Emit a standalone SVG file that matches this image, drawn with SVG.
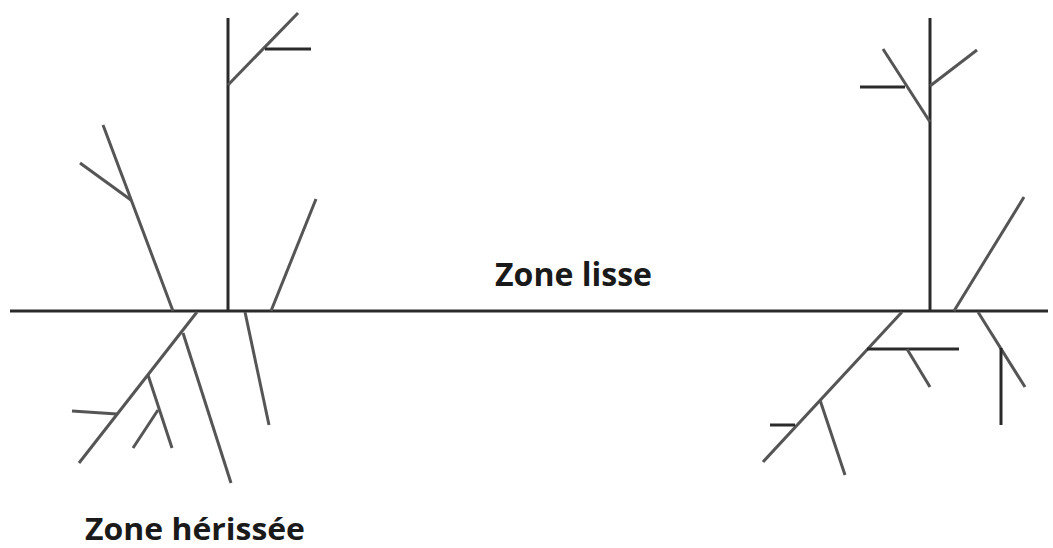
<svg xmlns="http://www.w3.org/2000/svg" width="1053" height="548" viewBox="0 0 1053 548">
<style>
.s{stroke:#555;stroke-width:3;stroke-linecap:butt;fill:none}
.d{stroke:#2a2a2a;stroke-width:3;fill:none}
.t{font-family:"Open Sans","Liberation Sans",sans-serif;font-weight:bold;fill:#1a1a1a}
</style>
<rect width="1053" height="548" fill="#fff"/>
<g id="ground">
<line class="d" x1="10" y1="311" x2="1048" y2="311" stroke-width="3.5"/>
</g>
<g id="left-plant">
<line class="d" x1="228" y1="18" x2="228" y2="311"/>
<line class="s" x1="228" y1="85" x2="298" y2="13"/>
<line class="d" x1="265" y1="49" x2="311" y2="49"/>
<line class="s" x1="173" y1="311" x2="103" y2="125"/>
<line class="s" x1="131" y1="200" x2="80" y2="163"/>
<line class="s" x1="271" y1="311" x2="316" y2="199"/>
<line class="s" x1="197" y1="312" x2="79" y2="463"/>
<line class="s" x1="183" y1="333" x2="231" y2="483"/>
<line class="s" x1="148" y1="375" x2="172" y2="448"/>
<line class="s" x1="158" y1="410" x2="133" y2="448"/>
<line class="s" x1="117" y1="414" x2="72" y2="411"/>
<line class="s" x1="245" y1="312" x2="269" y2="425"/>
</g>
<g id="right-plant">
<line class="d" x1="930" y1="18" x2="930" y2="311"/>
<line class="s" x1="930" y1="86" x2="977" y2="50"/>
<line class="s" x1="930" y1="122" x2="883" y2="49"/>
<line class="d" x1="905" y1="87" x2="860" y2="87"/>
<line class="s" x1="954" y1="311" x2="1024" y2="197"/>
<line class="s" x1="902" y1="312" x2="763" y2="462"/>
<line class="d" x1="867" y1="349" x2="959" y2="349"/>
<line class="s" x1="907" y1="349" x2="930" y2="387"/>
<line class="s" x1="820" y1="400" x2="845" y2="475"/>
<line class="d" x1="795" y1="425" x2="770" y2="425"/>
<line class="s" x1="978" y1="312" x2="1025" y2="387"/>
<line class="d" x1="1001" y1="348" x2="1001" y2="425"/>
</g>
<g id="labels">
<text class="t" x="495" y="286" font-size="32" textLength="157" lengthAdjust="spacingAndGlyphs">Zone lisse</text>
<text class="t" x="85" y="540" font-size="30" textLength="220" lengthAdjust="spacingAndGlyphs">Zone hérissée</text>
</g>
</svg>
